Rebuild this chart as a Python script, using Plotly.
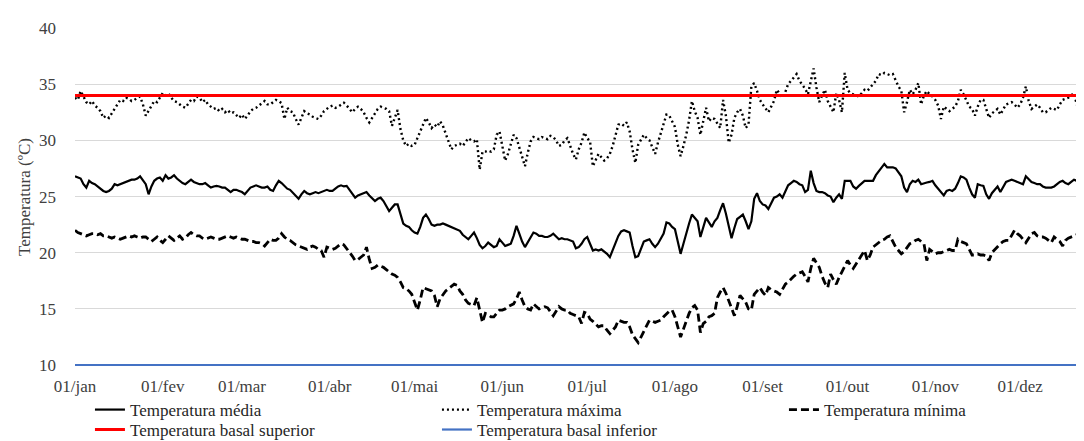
import pandas as pd
import plotly.graph_objects as go

# ---- data (daily values, 01/jan onwards) ----
temp_maxima = [
    33.8, 33.6, 34.4, 33.9, 33.4, 33.2, 33.5, 33.1, 32.9, 32.6,
    32.0, 32.2, 32.0, 32.4, 32.8, 33.2, 33.6, 33.5, 33.8, 33.7,
    33.5, 33.6, 33.8, 33.9, 33.2, 32.2, 32.6, 33.0, 33.5, 33.4,
    33.8, 34.2, 34.0, 34.2, 33.8, 33.5, 33.4, 33.2, 33.0, 32.9,
    33.2, 33.6, 33.5, 33.9, 33.8, 33.4, 33.6, 33.2, 33.0, 32.8,
    32.9, 32.6, 32.8, 32.5, 32.7, 32.4, 32.5, 32.2, 32.0, 32.3,
    31.9, 32.2, 32.6, 32.8, 32.9, 33.1, 33.3, 33.5, 33.2, 33.2,
    33.4, 33.6, 33.5, 33.3, 31.9, 32.9, 32.6, 32.5, 31.9, 31.4,
    32.0, 32.6, 32.4, 32.3, 32.1, 32.0, 31.9, 32.2, 32.6, 32.8,
    33.0, 33.1, 32.9, 33.0, 33.2, 33.35, 33.1, 32.8, 32.5, 32.8,
    33.0, 32.8, 32.5, 32.0, 31.6, 32.0, 32.4, 32.8, 33.0, 32.9,
    32.8, 32.6, 31.3, 32.0, 32.7, 31.0, 30.0, 29.5, 29.7, 29.5,
    29.6, 30.2, 30.8, 31.5, 32.0, 31.6, 31.1, 31.4, 31.2, 31.7,
    31.3, 30.6, 29.8, 29.2, 29.5, 29.6, 29.7, 29.5, 29.8, 30.2,
    30.0, 29.9, 30.1, 27.4, 29.0, 29.0, 29.1, 29.0, 29.2, 30.5,
    30.8, 29.4, 28.2, 28.8, 29.6, 30.5, 30.2, 29.3, 28.6, 27.7,
    28.9, 29.9, 30.3, 30.2, 30.1, 30.3, 30.2, 30.1, 30.4, 30.3,
    30.0, 29.5, 29.6, 30.0, 30.2, 29.4, 28.8, 28.3, 29.2, 29.8,
    30.7, 30.2, 29.9, 27.7, 28.2, 28.8, 28.5, 28.2, 28.4, 28.8,
    29.5, 30.4, 31.4, 31.5, 31.3, 31.6, 30.8, 29.2, 28.0, 29.6,
    30.1, 30.5, 30.2, 30.0, 29.4, 28.8, 29.8, 30.6, 31.4, 32.3,
    32.2, 31.7, 31.2, 29.6, 28.6, 29.5, 30.5, 31.8, 33.5, 32.6,
    32.0, 30.5, 31.8, 32.9, 31.7, 32.0, 31.9, 31.5, 31.1, 33.6,
    32.2, 29.8, 30.5, 32.0, 32.5, 32.8, 32.2, 31.1, 31.4, 34.8,
    35.1, 34.4, 33.6, 33.2, 32.8, 32.5, 33.0, 33.5, 34.5, 34.2,
    33.8, 34.3, 35.0, 35.3, 35.6, 35.9, 35.3, 35.0, 34.6, 34.1,
    35.2, 36.4, 34.7, 33.4, 34.0, 34.5, 33.5, 33.0, 32.5, 34.2,
    33.6, 32.5, 36.0, 34.5, 34.2, 34.1, 34.0, 33.9, 34.2, 34.5,
    34.4, 34.7, 35.0, 35.3, 35.9, 35.8, 36.0, 35.9, 35.8, 35.9,
    35.3, 34.8, 34.4, 32.5, 33.4, 34.5, 34.1, 34.5, 35.1, 33.2,
    34.0, 34.4, 34.1, 33.9, 33.6, 33.1, 31.9, 33.0, 32.8, 32.6,
    32.8, 33.0, 33.5, 34.5, 34.1, 33.5, 33.0, 32.8, 32.2, 33.0,
    33.6, 33.6, 32.8, 32.0, 32.4, 32.6, 32.8, 32.3, 32.8, 33.2,
    33.3, 33.4, 33.2, 32.9, 33.2, 33.8, 34.8, 33.5, 32.8, 33.0,
    33.2, 32.9, 32.5, 32.5, 32.7, 32.9, 32.8, 32.7, 33.2, 33.6,
    33.7, 33.8, 34.0, 34.2, 33.2, 32.5, 33.8, 34.4, 34.7, 34.4,
    34.2, 34.0, 34.3, 34.1, 34.0,
]

temp_media = [
    26.8, 26.7, 26.6, 26.1, 25.8, 26.4, 26.2, 26.1, 25.9, 25.7,
    25.5, 25.4, 25.5, 25.7, 26.1, 26.0, 26.1, 26.2, 26.3, 26.4,
    26.5, 26.5, 26.6, 26.8, 26.4, 26.1, 25.2, 25.9, 26.4, 26.6,
    26.7, 26.4, 26.9, 26.6, 26.7, 26.9, 26.6, 26.4, 26.2, 26.1,
    26.3, 26.5, 26.3, 26.2, 26.1, 26.1, 26.2, 26.0, 25.8, 25.9,
    25.95, 25.9, 25.8, 25.8, 25.6, 25.4, 25.6, 25.6, 25.5, 25.4,
    25.2, 25.5, 25.8, 25.9, 26.0, 25.9, 25.8, 25.8, 25.9, 25.6,
    25.5, 26.0, 26.4, 26.2, 25.9, 25.7, 25.6, 25.3, 25.0, 24.8,
    25.2, 25.5, 25.3, 25.2, 25.3, 25.4, 25.3, 25.4, 25.5, 25.6,
    25.5, 25.5, 25.7, 25.9, 26.0, 25.9, 25.95, 25.6, 25.2, 24.9,
    25.1, 25.2, 25.3, 25.4, 25.1, 24.8, 24.6, 24.8, 24.9, 24.6,
    24.1, 23.7, 24.0, 24.3, 24.3, 23.5, 22.6, 22.4, 22.3, 22.0,
    21.8, 21.7, 22.3, 23.1, 23.4, 23.0, 22.5, 22.4, 22.5, 22.5,
    22.6, 22.5, 22.4, 22.3, 22.2, 22.1, 21.95, 21.6, 21.4, 21.2,
    21.5, 21.8, 21.3, 20.7, 20.4, 20.6, 20.9, 20.7, 20.5, 20.6,
    21.2, 20.9, 20.6, 20.7, 20.8, 21.5, 22.4, 21.7, 21.0, 20.5,
    20.9, 21.4, 21.8, 21.7, 21.5, 21.5, 21.4, 21.4, 21.5, 21.7,
    21.4, 21.2, 21.3, 21.2, 21.2, 21.1, 21.0, 20.4, 20.5, 20.8,
    21.2, 21.4, 20.8, 20.2, 20.3, 20.2, 20.3, 20.1, 19.9, 19.6,
    20.2, 20.9, 21.5, 21.9, 22.0, 21.9, 21.8, 20.6, 19.6, 19.7,
    20.4, 21.0, 21.1, 21.2, 20.8, 20.5, 20.8, 21.2, 21.7, 22.7,
    22.6, 22.3, 22.1, 21.0, 19.9, 20.8, 21.8, 22.6, 23.4, 23.1,
    22.8, 21.4, 22.3, 23.1, 22.7, 22.3, 22.8, 23.1, 23.8, 24.4,
    23.5, 22.3, 21.3, 22.2, 23.0, 23.2, 23.4, 22.8, 22.1, 22.8,
    24.8, 25.3, 24.6, 24.3, 24.2, 23.9, 24.4, 24.9, 25.0, 25.2,
    24.9, 25.5, 26.0, 26.2, 26.4, 26.3, 26.1, 26.0, 25.4, 25.6,
    27.3, 26.2, 25.5, 25.4, 25.4, 25.3, 25.1, 25.0, 24.5, 24.9,
    25.2, 24.8, 26.4, 26.4, 26.4, 25.9, 25.7, 25.95, 26.2, 26.4,
    26.4, 26.4, 26.4, 26.9, 27.2, 27.6, 27.9, 27.6, 27.6, 27.6,
    27.5, 27.2, 26.8, 25.8, 25.4, 26.1, 26.4, 26.3, 26.5, 26.1,
    26.2, 26.25, 26.3, 26.4, 26.0, 25.7, 25.4, 25.1, 25.5, 25.6,
    25.5, 25.7, 26.2, 26.8, 26.7, 26.5, 25.8, 25.2, 24.9, 26.1,
    26.0, 25.95, 25.2, 24.8, 25.3, 25.6, 25.9, 25.4, 25.9, 26.3,
    26.4, 26.5, 26.4, 26.3, 26.2, 26.1, 26.8, 26.5, 26.3, 26.2,
    26.1, 26.1, 25.9, 25.8, 25.8, 25.8, 25.9, 26.1, 26.3, 26.4,
    26.2, 26.1, 26.3, 26.5, 26.4, 26.1, 26.4, 27.0, 27.1, 27.1,
    27.0, 26.9, 27.0, 27.1, 27.0,
]

temp_minima = [
    22.0, 21.8, 21.7, 21.6, 21.5, 21.6, 21.7, 21.7, 21.6, 21.7,
    21.5, 21.5, 21.4, 21.3, 21.4, 21.3, 21.2, 21.3, 21.4, 21.5,
    21.4, 21.5, 21.4, 21.3, 21.4, 21.4, 21.2, 21.0, 21.2, 21.4,
    21.1, 20.9, 21.2, 21.5, 21.3, 21.1, 21.3, 21.5, 21.2, 21.3,
    21.6, 21.8, 21.6, 21.5, 21.5, 21.3, 21.2, 21.3, 21.4, 21.3,
    21.2, 21.2, 21.3, 21.4, 21.5, 21.4, 21.3, 21.4, 21.3, 21.2,
    21.2, 21.1, 21.0, 21.0, 20.9, 20.9, 20.8, 20.6, 20.9, 21.2,
    21.1, 21.1, 21.3, 21.7, 21.4, 21.2, 21.1, 20.9, 20.7, 20.6,
    20.5, 20.4, 20.3, 20.5, 20.6, 20.5, 20.3, 20.2, 19.6, 20.5,
    20.4, 20.3, 20.4, 20.6, 20.8, 20.7, 20.4, 20.0, 19.7, 19.3,
    19.4, 19.6, 19.8, 20.5, 19.4, 18.6, 18.7, 18.9, 18.8, 18.7,
    18.5, 18.3, 18.1, 18.0, 17.8, 17.4, 16.9, 16.8, 16.6, 16.3,
    15.6, 14.9, 15.8, 16.9, 16.8, 16.7, 16.6, 16.2, 15.2, 15.9,
    16.3, 16.6, 16.8, 17.0, 17.2, 17.1, 16.6, 16.3, 15.8, 15.5,
    15.4, 15.3, 16.0, 14.9, 13.8, 14.6, 14.5, 14.3, 14.3, 14.6,
    14.9, 14.9, 15.0, 15.2, 15.3, 15.45, 15.9, 16.5, 15.8, 15.2,
    15.0, 14.9, 15.45, 15.2, 15.0, 15.1, 15.2, 15.1, 14.8, 14.4,
    14.8, 15.2, 15.0, 14.9, 14.9, 14.6, 14.5, 14.4, 14.3, 13.7,
    14.7, 14.6, 14.1, 13.9, 13.6, 13.4, 13.5, 13.5, 13.1, 12.8,
    13.1, 13.4, 14.0, 13.9, 13.8, 13.8, 13.4, 12.7, 12.3, 12.0,
    12.5, 13.0, 13.5, 14.0, 13.9, 13.8, 13.9, 14.0, 14.3, 14.6,
    14.8, 14.9, 14.3, 13.4, 12.5, 13.2, 14.0, 14.6, 15.1, 15.3,
    14.9, 12.9, 13.7, 13.9, 14.3, 14.4, 14.6, 16.0, 16.5, 16.9,
    16.4, 15.7, 15.0, 14.4, 15.2, 16.2, 15.9, 15.6, 15.0, 14.9,
    16.3, 16.6, 16.9, 16.5, 16.2, 16.9, 16.7, 16.6, 16.5, 16.3,
    16.8, 17.2, 17.4, 17.7, 17.9, 18.1, 18.2, 18.3, 17.9, 17.4,
    18.6, 19.5, 19.1, 18.7, 17.9, 17.3, 16.9, 18.1, 17.6, 17.2,
    17.8, 18.3, 18.7, 19.3, 18.9, 18.6, 19.0, 19.4, 19.9, 20.2,
    19.3, 19.8, 20.5, 20.7, 20.9, 21.1, 21.2, 21.4, 21.5, 21.0,
    20.5, 20.2, 19.9, 20.1, 20.5, 20.8, 20.9, 21.1, 21.2, 21.0,
    20.8, 19.3, 20.3, 20.1, 19.9, 20.0, 20.0, 20.1, 20.2, 20.3,
    20.2, 20.2, 21.2, 21.0, 20.9, 20.8, 20.3, 19.8, 19.8, 19.9,
    19.8, 19.8, 19.7, 19.3, 20.0, 20.3, 20.6, 20.8, 21.0, 21.1,
    21.1, 21.5, 22.0, 21.7, 21.5, 21.2, 20.9, 21.3, 21.7, 21.8,
    21.5, 21.4, 21.4, 21.3, 21.1, 20.9, 21.4, 21.2, 21.0, 20.6,
    21.1, 21.3, 21.4, 21.5, 21.6, 21.7, 21.7, 21.8, 21.9, 22.0,
    21.9, 22.0, 22.0, 21.9, 22.0,
]

basal_superior = 34
basal_inferior = 10

month_ticks = ["2021-01-01", "2021-02-01", "2021-03-01", "2021-04-01",
               "2021-05-01", "2021-06-01", "2021-07-01", "2021-08-01",
               "2021-09-01", "2021-10-01", "2021-11-01", "2021-12-01"]
month_labels = ["01/jan", "01/fev", "01/mar", "01/abr", "01/mai", "01/jun",
                "01/jul", "01/ago", "01/set", "01/out", "01/nov", "01/dez"]

dates = pd.date_range("2021-01-01", periods=365, freq="D")

FONT = "Liberation Serif"
TXT = "#404040"
LEG_TXT = "#262626"
COL_W = 302  # legend column width (px)

fig = go.Figure()
fig.add_trace(go.Scatter(
    x=dates[:len(temp_media)], y=temp_media, mode="lines",
    name="Temperatura média", legend="legend", legendwidth=COL_W,
    line=dict(color="#000000", width=2.2)))
fig.add_trace(go.Scatter(
    x=dates[:len(temp_maxima)], y=temp_maxima, mode="lines",
    name="Temperatura máxima", legend="legend", legendwidth=COL_W,
    line=dict(color="#000000", width=2.4, dash="2px,3px")))
fig.add_trace(go.Scatter(
    x=dates[:len(temp_minima)], y=temp_minima, mode="lines",
    name="Temperatura mínima", legend="legend", legendwidth=160,
    line=dict(color="#000000", width=2.8, dash="8px,4px")))
fig.add_trace(go.Scatter(
    x=dates, y=[basal_superior] * len(dates), mode="lines",
    name="Temperatura basal superior", legend="legend2", legendwidth=COL_W,
    line=dict(color="#ff0000", width=3)))
fig.add_trace(go.Scatter(
    x=dates, y=[basal_inferior] * len(dates), mode="lines",
    name="Temperatura basal inferior", legend="legend2", legendwidth=200,
    line=dict(color="#4472c4", width=2.2)))

leg_common = dict(
    orientation="h", xanchor="left", yanchor="top", x=0.0147,
    font=dict(family=FONT, size=17, color=LEG_TXT),
    bgcolor="rgba(0,0,0,0)", tracegroupgap=0, traceorder="normal",
)

fig.update_layout(
    width=1084, height=441,
    margin=dict(l=67, r=0, t=20, b=83, autoexpand=False),
    paper_bgcolor="white", plot_bgcolor="white",
    font=dict(family=FONT, size=17, color=TXT),
    showlegend=True,
    legend=dict(y=-0.077, **leg_common),
    legend2=dict(y=-0.136, **leg_common),
)
fig.update_xaxes(
    range=["2021-01-01", "2021-12-26 09:00"],
    tickmode="array", tickvals=month_ticks, ticktext=month_labels,
    showgrid=False, zeroline=False, showline=False, ticks="",
    ticklabelstandoff=8,
    tickfont=dict(family=FONT, size=17, color=TXT),
)
fig.update_yaxes(
    range=[9.92, 40], tick0=10, dtick=5,
    showgrid=True, gridcolor="#d9d9d9", gridwidth=1,
    zeroline=False, showline=False, ticks="",
    ticklabelstandoff=18,
    tickfont=dict(family=FONT, size=17, color=TXT),
    title=dict(text="Temperatura (ºC)", standoff=4,
               font=dict(family=FONT, size=17, color=TXT)),
)

fig.write_html("out.html")
